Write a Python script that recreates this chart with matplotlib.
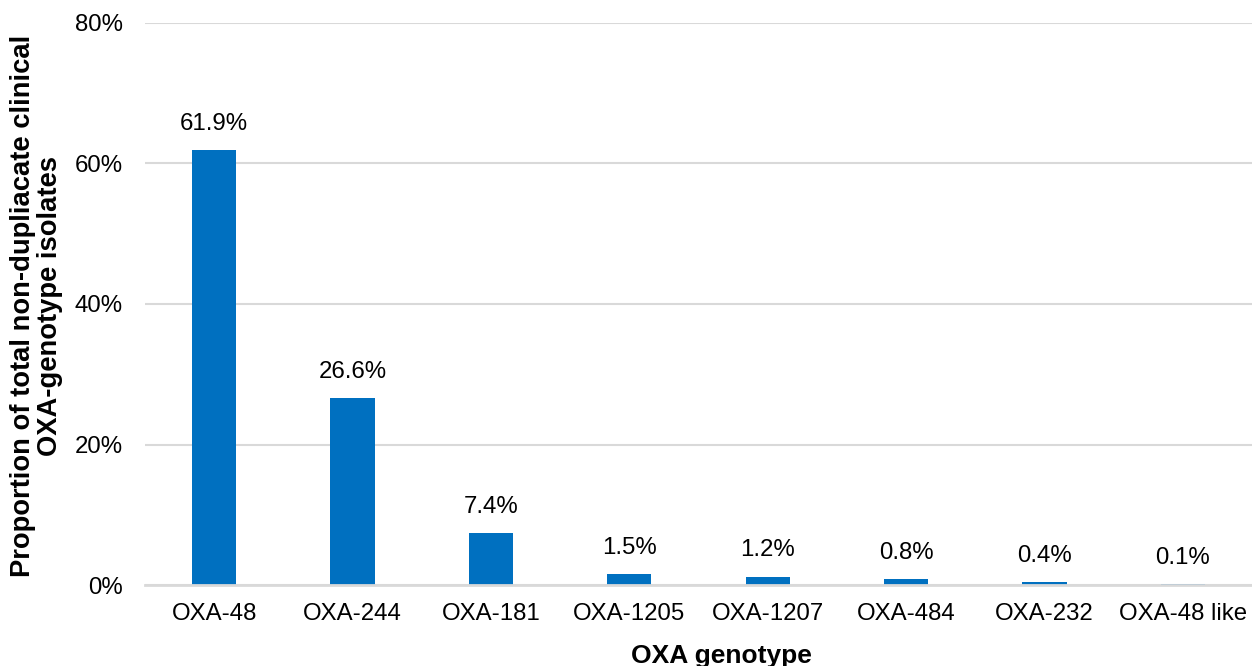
import matplotlib
matplotlib.use("Agg")
import matplotlib.pyplot as plt
from matplotlib.ticker import FuncFormatter

plt.rcParams['font.family'] = ['Liberation Sans', 'DejaVu Sans']

# 数据
genotypes = ['OXA-48', 'OXA-244', 'OXA-181', 'OXA-1205', 'OXA-1207',
             'OXA-484', 'OXA-232', 'OXA-48 like']
proportions = [61.9, 26.6, 7.4, 1.5, 1.2, 0.8, 0.4, 0.1]

bar_color = '#0070C0'
grid_color = '#D9D9D9'

fig = plt.figure(figsize=(12.52, 6.66), dpi=100)
ax = fig.add_axes([0.1158, 0.1216, 0.8842, 0.8439])

x = range(len(genotypes))
bars = ax.bar(x, proportions, width=0.32, color=bar_color, zorder=3)

# 数值标签
for xi, v in zip(x, proportions):
    ax.text(xi, v + 2.2, f'{v:.1f}%', ha='center', va='bottom', fontsize=17.3)

ax.set_xlim(-0.5, len(genotypes) - 0.5)
ax.set_ylim(0, 80)
ax.set_yticks([0, 20, 40, 60, 80])
ax.yaxis.set_major_formatter(FuncFormatter(lambda v, p: f'{v:.0f}%'))
ax.set_xticks(list(x))
ax.set_xticklabels(genotypes)

ax.grid(axis='y', color=grid_color, linewidth=1.5, zorder=0)
for s in ['top', 'right', 'left']:
    ax.spines[s].set_visible(False)
ax.spines['bottom'].set_color(grid_color)
ax.spines['bottom'].set_linewidth(2)
ax.spines['bottom'].set_zorder(4)

ax.tick_params(axis='both', length=0, labelsize=17.3)
ax.tick_params(axis='y', pad=16)
ax.tick_params(axis='x', pad=13)

# 坐标轴标题
fig.text(721 / 1252, 1 - 644 / 666, 'OXA genotype', ha='center', va='top',
         fontsize=19, fontweight='bold')
fig.text(37 / 1252, 1 - 306 / 666,
         'Proportion of total non-dupliacate clinical\nOXA-genotype isolates',
         rotation=90, ha='center', va='center', multialignment='center',
         fontsize=19.7, fontweight='bold', linespacing=1.05)

fig.savefig('out.png', dpi=100)
